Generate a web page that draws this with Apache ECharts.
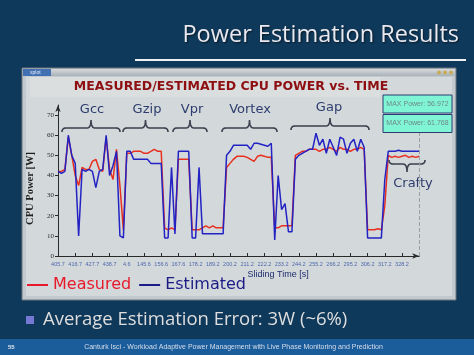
<!DOCTYPE html>
<html><head><meta charset="utf-8">
<script src="https://cdn.jsdelivr.net/npm/echarts@6/dist/echarts.min.js"></script>
<style>html,body{margin:0;padding:0;background:#0f395b}#c{width:474px;height:355px}</style>
</head><body><div id="c"></div>
<script>
// ---- data ----
const timeLabels = ['405.7','416.7','427.7','438.7','4.6','145.6','156.6','167.6','178.2','189.2','200.2',
  '211.2','222.2','233.2','244.2','255.2','266.2','295.2','306.2','317.2','328.2'];
const SAMPLES_PER_TICK = 5;
const measured = [
  42,42,43,59,50,40,35,44,43,43,47,48,43,42,59,43,38,53,35,13,51,
  51,52,52,52,51,51,52,53,52,52,14,13,14,13,48,
  48,48,48,13,13,13,14,15,14,15,14,14,14,44,
  46,48,49.5,49.5,49.5,49,48,47,49.5,50,49.5,49,49,
  14,14,15,15,15,15,50,
  51,52,52,53,53,53,52,53,53,54,53,52,54,53,53,52,53,53,54,53,
  13,13,13,13.5,13,
  25,
  50,49,49.5,49,49.5,50,49,49.5,49,49.5
];
const estimated = [
  42,41,42,60,50,46,10,43,42,43,42,34,42,43,60,40,45,52,10,9,52,
  52,48,48,48,48,48,46,46,46,46,9,9,44,11,52,
  52,52,52,9,9,44,11,11,11,11,11,11,11,50,
  52,55,55,55,55,55,53,56,56,55.5,55,54.5,56,
  8,40,23,26,12,12,48,
  50,51,52,53,53,61,55,58,51,58,54,50,59,58,51,56,58,52,58,54,
  9,9,9,9,9,
  38,
  52,52,52,52.5,52,52,52,52,52,52
];
const seriesNames = ['Measured','Estimated'];
const benchmarks = ['Gcc','Gzip','Vpr','Vortex','Gap','Crafty'];
const maxPower = ['56.972','61.768'];

// ---- annotation layout (pixels) ----
const braceLayout = [
  {x1:62, x2:120, y:128, d:-1, tx:92,  ty:110},
  {x1:123,x2:168, y:128, d:-1, tx:147, ty:110},
  {x1:173,x2:207, y:128, d:-1, tx:192, ty:110},
  {x1:222,x2:277, y:128, d:-1, tx:250, ty:110},
  {x1:291,x2:369, y:126, d:-1, tx:329, ty:108},
  {x1:389,x2:425, y:164, d:1,  tx:413, ty:184}
];

function quad(p0, c, p1, n) {
  const pts = [];
  for (let k = 1; k <= n; k++) {
    const t = k / n, a = (1-t)*(1-t), b = 2*(1-t)*t, e = t*t;
    pts.push([a*p0[0]+b*c[0]+e*p1[0], a*p0[1]+b*c[1]+e*p1[1]]);
  }
  return pts;
}
function bracePoints(x1, x2, y, d) {
  const r = 4, t = 8, xm = (x1 + x2) / 2;
  let pts = [[x1, y - d*r]];
  pts = pts.concat(quad([x1, y - d*r], [x1, y], [x1 + r, y], 6));
  pts.push([xm - r, y]);
  pts = pts.concat(quad([xm - r, y], [xm, y], [xm, y + d*t], 6));
  pts = pts.concat(quad([xm, y + d*t], [xm, y], [xm + r, y], 6));
  pts.push([x2 - r, y]);
  pts = pts.concat(quad([x2 - r, y], [x2, y], [x2, y - d*r], 6));
  return pts;
}

const toPairs = arr => arr.map((v, i) => [i / SAMPLES_PER_TICK, v]);

const graphics = [
  // window frame
  {type:'rect', z:-5, shape:{x:22,y:68,width:434,height:232}, style:{fill:'#c3cacf', stroke:'#6c757c', lineWidth:1}},
  {type:'rect', z:-4, shape:{x:23,y:69,width:432,height:7},
    style:{fill:new echarts.graphic.LinearGradient(0,0,0,1,[{offset:0,color:'#d6dadd'},{offset:1,color:'#a9b1b8'}])}},
  {type:'rect', z:-3, shape:{x:23,y:69,width:28,height:7}, style:{fill:'#4271b3'}},
  {type:'text', z:-2, style:{text:'xplot', x:30, y:72.5, fill:'#e8eef8', font:'5px "Liberation Sans"', textVerticalAlign:'middle'}},
  {type:'circle', z:-3, shape:{cx:439,cy:72.5,r:2}, style:{fill:'#c9aa55'}},
  {type:'circle', z:-3, shape:{cx:445,cy:72.5,r:2}, style:{fill:'#c9aa55'}},
  {type:'circle', z:-3, shape:{cx:451,cy:72.5,r:2}, style:{fill:'#c9aa55'}},
  {type:'rect', z:-4, shape:{x:26,y:77,width:426,height:219}, style:{fill:'#d3d8db'}},
  {type:'rect', z:-3, shape:{x:30,y:77,width:350,height:20}, style:{fill:'#dadedf'}},
  // slide title + rule
  {type:'text', style:{text:'Power Estimation Results', x:459, y:35, textAlign:'right', textVerticalAlign:'middle',
    fill:'#e9e9ef', font:'23.5px "Open Sans"', textShadowColor:'rgba(0,0,0,0.6)', textShadowBlur:2, textShadowOffsetX:1, textShadowOffsetY:1}},
  {type:'rect', shape:{x:135,y:59,width:331,height:2}, style:{fill:'#eef0f2'}},
  // bullet
  {type:'rect', shape:{x:26,y:316,width:8,height:8}, style:{fill:'#7777d6'}},
  {type:'text', style:{text:'Average Estimation Error: 3W (~6%)', x:43, y:320, textVerticalAlign:'middle',
    fill:'#dedede', font:'18.5px "Open Sans"'}},
  // footer
  {type:'rect', shape:{x:0,y:339,width:474,height:16}, style:{fill:'#1b5c9a'}},
  {type:'text', style:{text:'55', x:8, y:347.5, textVerticalAlign:'middle', fill:'#e4e8ee', font:'bold 6px "Liberation Sans"'}},
  {type:'text', style:{text:'Canturk Isci - Workload Adaptive Power Management with Live Phase Monitoring and Prediction',
    x:233.5, y:347.5, textAlign:'center', textVerticalAlign:'middle', fill:'#d6deec', font:'7px "Liberation Sans"'}}
];
// MAX power boxes
maxPower.forEach((mp, k) => {
  const y0 = 95 + k * 19.5;
  graphics.push({type:'rect', z:10, shape:{x:383,y:y0,width:69,height:18}, style:{fill:'#7ff5d6', stroke:'#2c3c72', lineWidth:1}});
  graphics.push({type:'text', z:11, style:{text:'MAX Power: ' + mp, x:417.5, y:y0 + 9, textAlign:'center', textVerticalAlign:'middle',
    fill:'#6e8784', font:'7px "Liberation Sans"'}});
});
// benchmark braces + labels
benchmarks.forEach((b, k) => {
  const L = braceLayout[k];
  graphics.push({type:'polyline', z:5, shape:{points:bracePoints(L.x1, L.x2, L.y, L.d)},
    style:{stroke:'#3b404e', lineWidth:1.6, fill:'none'}});
  graphics.push({type:'text', z:5, style:{text:b, x:L.tx, y:L.ty, textAlign:'center', textVerticalAlign:'middle',
    fill:'#2d3d6e', font:'13px "DejaVu Sans"'}});
});

const chart = echarts.init(document.getElementById('c'));
chart.setOption({
  animation: false,
  backgroundColor: '#0f395b',
  title: {
    text: 'MEASURED/ESTIMATED CPU POWER vs. TIME', left: 231, top: 80, padding: 0, textAlign: 'center',
    textStyle: {color: '#8e0f12', fontSize: 12.5, fontWeight: 'bold', fontFamily: 'DejaVu Sans'}
  },
  legend: {
    left: 27, top: 277, padding: 0, itemGap: 8, itemWidth: 21, itemHeight: 2, icon: 'rect',
    textStyle: {fontFamily: 'DejaVu Sans', fontSize: 16},
    data: [
      {name: seriesNames[0], textStyle: {color: '#e8192a'}, itemStyle: {color: '#e8192a'}},
      {name: seriesNames[1], textStyle: {color: '#1c1c86'}, itemStyle: {color: '#1c1c86'}}
    ]
  },
  grid: {left: 58, top: 105, width: 361.2, height: 151},
  xAxis: {
    type: 'value', min: 0, max: timeLabels.length, interval: 1,
    name: 'Sliding Time [s]', nameLocation: 'middle', nameGap: 14,
    nameTextStyle: {color: '#1d2c6c', fontSize: 9, fontFamily: 'Liberation Sans', padding: [0, 0, 0, 79]},
    axisLine: {lineStyle: {color: '#2a2a2a', width: 1}, symbol: ['none', 'arrow'], symbolSize: [4, 7]},
    axisTick: {inside: true, length: 3, lineStyle: {color: '#2a2a2a'}},
    axisLabel: {margin: 5, fontSize: 5.5, color: '#4d68ad', fontFamily: 'Liberation Sans',
      formatter: v => timeLabels[Math.round(v)] || ''},
    splitLine: {show: false}
  },
  yAxis: {
    type: 'value', min: 0, max: 75, interval: 10,
    name: 'CPU Power [W]', nameLocation: 'middle', nameRotate: 90, nameGap: 15,
    nameTextStyle: {color: '#1e1e1e', fontSize: 10.5, fontWeight: 'bold', fontFamily: 'Liberation Serif', padding: [0, 16, 0, 0]},
    axisLine: {show: true, lineStyle: {color: '#2a2a2a', width: 1}, symbol: ['none', 'arrow'], symbolSize: [4, 7]},
    axisTick: {show: true, length: 3, lineStyle: {color: '#2a2a2a'}},
    axisLabel: {margin: 4, fontSize: 7, color: '#2a2a2a', fontFamily: 'Liberation Serif', showMaxLabel: false},
    splitLine: {show: false}
  },
  graphic: {elements: graphics},
  series: [
    {name: seriesNames[0], type: 'line', data: toPairs(measured), showSymbol: false, z: 3,
      lineStyle: {color: '#e8301f', width: 1.5}, itemStyle: {color: '#e8301f'},
      markLine: {silent: true, symbol: 'none', label: {show: false},
        lineStyle: {color: '#9aa0a4', type: 'dashed', width: 1}, data: [{xAxis: timeLabels.length}]}},
    {name: seriesNames[1], type: 'line', data: toPairs(estimated), showSymbol: false, z: 4,
      lineStyle: {color: '#2323c4', width: 1.5}, itemStyle: {color: '#2323c4'}}
  ]
});
</script></body></html>
